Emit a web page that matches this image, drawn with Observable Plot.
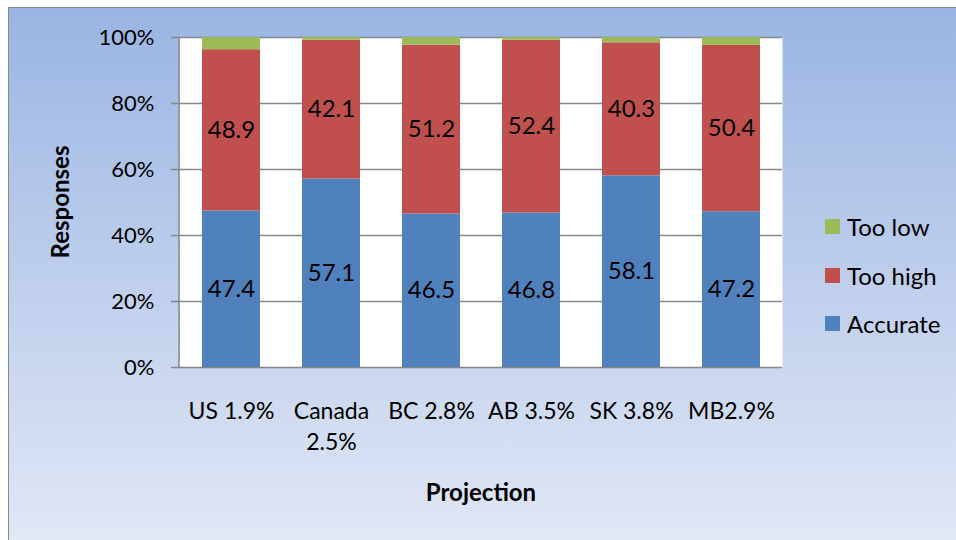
<!DOCTYPE html>
<html><head><meta charset="utf-8">
<script src="https://cdn.jsdelivr.net/npm/d3@7"></script>
<script src="https://cdn.jsdelivr.net/npm/@observablehq/plot@0.6"></script>
<style>
body{margin:0;background:#fff;}
#wrap{position:relative;width:956px;height:540px;overflow:hidden;font-family:Lato,"Open Sans",sans-serif;}
#bg{position:absolute;left:8px;top:7px;width:960px;height:540px;background:linear-gradient(#9ab5e3,#e2e8f5);border-left:1.5px solid #8a8a8a;border-top:1.5px solid #8a8a8a;}
#chart{position:absolute;left:0;top:0;}
.lg{position:absolute;left:825px;height:15px;display:flex;align-items:center;font-size:24px;color:#000;white-space:nowrap;}
.lg span.sw{display:inline-block;width:15px;height:15px;margin-right:7px;}
#ytitle{position:absolute;left:59px;top:202px;transform:translate(-50%,-50%) rotate(-90deg);font-size:24px;font-weight:bold;color:#000;white-space:nowrap;}
</style>
</head><body>
<div id="wrap"><div id="bg"></div><div id="chart"></div><div id="legend"></div><div id="ytitle">Responses</div></div>
<script>
const categories = ["US 1.9%","Canada 2.5%","BC 2.8%","AB 3.5%","SK 3.8%","MB2.9%"];
const tickLabels = ["US 1.9%","Canada\n2.5%","BC 2.8%","AB 3.5%","SK 3.8%","MB2.9%"];
const accurate = [47.4,57.1,46.5,46.8,58.1,47.2];
const tooHigh  = [48.9,42.1,51.2,52.4,40.3,50.4];
const tooLow   = [3.7,0.8,2.3,0.8,1.6,2.4];
const seriesNames = ["Accurate","Too high","Too low"];
const seriesColors = ["#4f81bd","#c0504d","#9bbb59"];
const yTicks = [0,0.2,0.4,0.6,0.8,1];
const legendOrder = ["Too low","Too high","Accurate"];

const rows = [];
[accurate, tooHigh, tooLow].forEach((arr, si) =>
  arr.forEach((v, i) => rows.push({cat: categories[i], series: seriesNames[si], value: v / 100, label: v.toFixed(1)})));

const grid = "#878787";
const chart = Plot.plot({
  width: 956, height: 540,
  marginLeft: 179, marginRight: 174, marginTop: 37, marginBottom: 173,
  style: {background: "transparent", fontFamily: "Lato, 'Open Sans', sans-serif", fontSize: "22px", color: "#000"},
  x: {domain: categories, paddingInner: 0.42, paddingOuter: 0.21, axis: null},
  y: {domain: [0, 1], axis: null},
  color: {domain: seriesNames, range: seriesColors},
  marks: [
    Plot.frame({fill: "white", stroke: null}),
    Plot.gridY(yTicks, {stroke: grid, strokeOpacity: 1, strokeWidth: 1.5}),
    Plot.axisY(yTicks, {tickSize: 8, tickPadding: 17, tickFormat: d3.format(".0%"), fontSize: 22, stroke: grid, strokeWidth: 1.5, fill: "#000", label: null}),
    Plot.barY(rows, {x: "cat", y: "value", fill: "series"}),
    Plot.text(rows.filter(d => d.series !== "Too low"), Plot.stackY({x: "cat", y: "value", z: "series", text: "label", fontSize: 24, fill: "#000"})),
    (index, scales, values, dimensions) => {
      const g = d3.create("svg:line")
        .attr("x1", dimensions.marginLeft).attr("x2", dimensions.marginLeft)
        .attr("y1", dimensions.marginTop).attr("y2", dimensions.height - dimensions.marginBottom)
        .attr("stroke", grid).attr("stroke-width", 1.5);
      return g.node();
    },
    Plot.text(categories, {x: d => d, text: (d, i) => tickLabels[i], frameAnchor: "bottom", lineAnchor: "top", dy: 29, lineHeight: 1.35, fontSize: 23, fill: "#000"}),
    Plot.text(["Projection"], {frameAnchor: "bottom", dy: 133, fontSize: 24, fontWeight: "bold", fill: "#000"})
  ]
});
document.getElementById("chart").appendChild(chart);

const legend = document.getElementById("legend");
const legendY = [219, 268, 316];
legendOrder.forEach((name, i) => {
  const d = document.createElement("div");
  d.className = "lg";
  d.style.top = legendY[i] + "px";
  const sw = document.createElement("span");
  sw.className = "sw";
  sw.style.background = seriesColors[seriesNames.indexOf(name)];
  d.appendChild(sw);
  d.appendChild(document.createTextNode(name));
  legend.appendChild(d);
});
</script>
</body></html>
